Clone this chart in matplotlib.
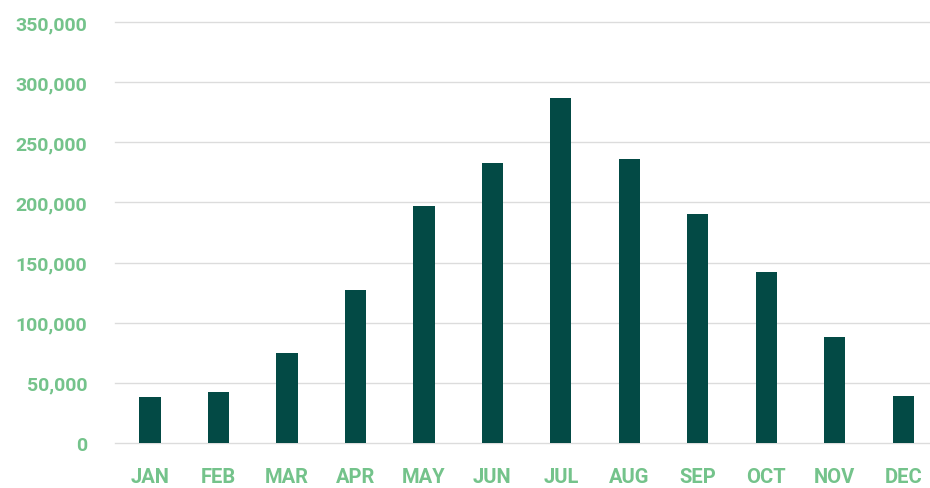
import matplotlib
matplotlib.use("Agg")
import matplotlib.pyplot as plt
from matplotlib.ticker import FuncFormatter

# data
months = ["JAN", "FEB", "MAR", "APR", "MAY", "JUN",
          "JUL", "AUG", "SEP", "OCT", "NOV", "DEC"]
visitors = [38000, 42000, 75000, 127000, 197000, 233000,
            287000, 236000, 190000, 142000, 88000, 39000]
y_ticks = [0, 50000, 100000, 150000, 200000, 250000, 300000, 350000]

bar_color = "#034a45"
label_color = "#74c38b"
grid_color = "#dcdcdc"

plt.rcParams["font.family"] = ["Roboto", "DejaVu Sans"]

fig = plt.figure(figsize=(9.3, 4.89), dpi=100)
ax = fig.add_axes([0.1237, 0.092, 0.8763, 0.861])

x = list(range(len(months)))
ax.bar(x, visitors, width=0.31, color=bar_color, zorder=3)

ax.set_xlim(-0.51, 11.39)
ax.set_ylim(0, 350000)
ax.set_yticks(y_ticks)
ax.yaxis.set_major_formatter(FuncFormatter(lambda v, p: f"{int(v):,}"))
ax.set_xticks(x)
ax.set_xticklabels(months)

ax.grid(axis="y", color=grid_color, linewidth=1, zorder=0)
for gl in ax.get_ygridlines():
    gl.set_clip_on(False)
for s in ax.spines.values():
    s.set_visible(False)

ax.tick_params(axis="both", length=0, labelcolor=label_color)
ax.tick_params(axis="y", pad=20, labelsize=14)
ax.tick_params(axis="x", pad=17, labelsize=14.5)
for lbl in ax.get_xticklabels() + ax.get_yticklabels():
    lbl.set_fontweight("bold")

fig.savefig("out.png", dpi=100)
